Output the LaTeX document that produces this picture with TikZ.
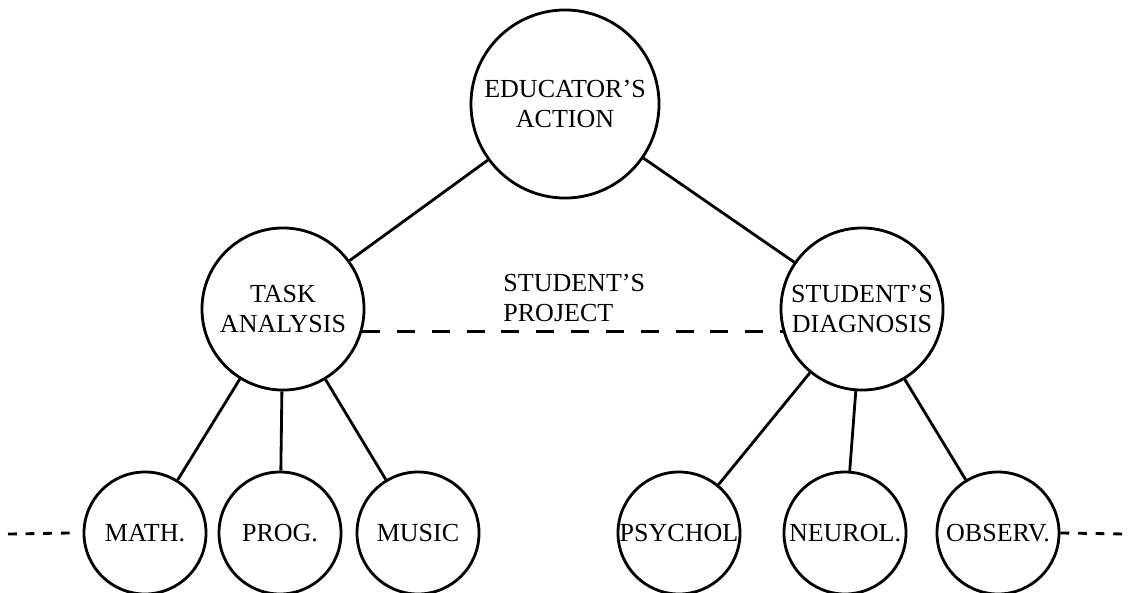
\documentclass[tikz,border=0pt]{standalone}
\usepackage{fontspec}
\setmainfont{Liberation Serif}
\usetikzlibrary{positioning}

\begin{document}
\begin{tikzpicture}[
    x=0.025cm, y=-0.025cm,
    line width=2pt,
    font=\fontsize{18.5}{21}\selectfont,
    topcirc/.style  = {draw, circle, line width=2pt, inner sep=0pt,
                       minimum size=4.7cm, align=center},
    midcirc/.style  = {draw, circle, line width=2pt, inner sep=0pt,
                       minimum size=4.05cm, align=center},
    leafcirc/.style = {draw, circle, line width=2pt, inner sep=0pt,
                       minimum size=3.05cm},
    link/.style     = {draw, line width=2pt},
    projline/.style = {draw, line width=2pt, dash pattern=on 0.45cm off 0.42cm},
    moreline/.style = {draw, line width=2pt, dash pattern=on 0.22cm off 0.22cm},
    lbl/.style      = {align=left, inner sep=0pt},
  ]
  \useasboundingbox (0,0) rectangle (1128,592);

  % ===================================================================
  % Top: educator, then the two analyses
  % ===================================================================
  \node[topcirc] (educ) at (565,104) {EDUCATOR'S\\ACTION};
  \node[midcirc] (task) at (283,309) {TASK\\ANALYSIS};
  \node[midcirc] (diag) at (862,309) {STUDENT'S\\DIAGNOSIS};

  \draw[link] (educ) -- (task);
  \draw[link] (educ) -- (diag);

  % student's project between the two
  \draw[projline] (task.-16) -- (diag.196);
  \node[lbl, anchor=west] (project) at (502,298) {STUDENT'S\\PROJECT};

  % ===================================================================
  % Bottom row: disciplines
  % ===================================================================
  \node[leafcirc] (math)    at (145,533) {\makebox[0pt]{MATH.}};
  \node[leafcirc] (prog)    at (280,533) {\makebox[0pt]{PROG.}};
  \node[leafcirc] (music)   at (418,533) {\makebox[0pt]{MUSIC}};
  \node[leafcirc] (psychol) at (679,533) {\makebox[0pt]{PSYCHOL}};
  \node[leafcirc] (neurol)  at (845,533) {\makebox[0pt]{NEUROL.}};
  \node[leafcirc] (observ)  at (998,533) {\makebox[0pt]{OBSERV.}};

  \draw[link] (task) -- (math);
  \draw[link] (task) -- (prog);
  \draw[link] (task) -- (music);
  \draw[link] (diag) -- (psychol);
  \draw[link] (diag) -- (neurol);
  \draw[link] (diag) -- (observ);

  % open ends of the row
  \coordinate (lfree) at (8,534);
  \coordinate (rfree) at (1126,534);
  \draw[moreline] (lfree) -- ([xshift=-0.3cm]math.west);
  \draw[moreline] (observ.east) -- (rfree);

\end{tikzpicture}
\end{document}
